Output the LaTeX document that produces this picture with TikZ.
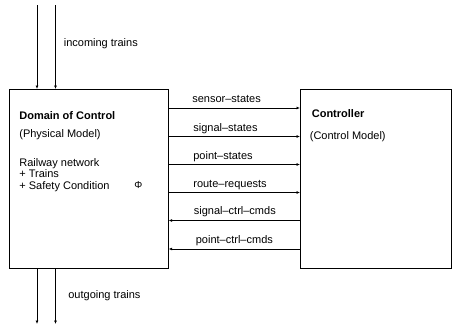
\documentclass[tikz,border=0pt]{standalone}
\usepackage{fontspec}
\setmainfont{Liberation Sans}
\usetikzlibrary{arrows.meta}
\begin{document}
\begin{tikzpicture}[x=1pt,y=-1pt,
  line width=0.7pt,
  font=\fontsize{11}{13}\selectfont,
  block/.style={draw, rectangle, inner sep=0pt, anchor=north west},
  flow/.style={-{Latex[length=3.5pt,width=3pt]}},
  lbl/.style={anchor=base west, inner sep=0pt}]
  \useasboundingbox (0,0) rectangle (453,327);

  % the two main blocks
  \node[block, minimum width=159pt, minimum height=179pt] (dom) at (9,89) {};
  \node[block, minimum width=151pt, minimum height=179pt] (ctl) at (300,89) {};

  % texts inside the physical model block
  \node[lbl, font=\fontsize{11}{13}\selectfont\bfseries] (domt) at (19,119) {Domain of Control};
  \node[lbl] (domm) at (19,137) {(Physical Model)};
  \node[lbl] (rw) at (19,166) {Railway network};
  \node[lbl] (tr) at (19,177.5) {+ Trains};
  \node[lbl] (sc) at (19,189) {+ Safety Condition};
  \node[lbl, font=\fontsize{10}{12}\selectfont] (phi) at (134,188.5) {Φ};

  % texts inside the controller block
  \node[lbl, font=\fontsize{11}{13}\selectfont\bfseries] (ctlt) at (311.5,117) {Controller};
  \node[lbl] (ctlm) at (309.5,139) {(Control Model)};

  % trains entering and leaving the domain
  \coordinate (inA) at (37,5);
  \coordinate (inB) at (55.5,5);
  \coordinate (outA) at (37,324);
  \coordinate (outB) at (55.5,324);
  \draw[flow] (inA) -- (inA |- dom.north);
  \draw[flow] (inB) -- (inB |- dom.north);
  \draw[flow] (outA |- dom.south) -- (outA);
  \draw[flow] (outB |- dom.south) -- (outB);
  \node[lbl] (inl) at (63.5,46.5) {incoming trains};
  \node[lbl] (outl) at (68,298) {outgoing trains};

  % interface channels between the blocks
  \coordinate (r1) at (0,108);
  \coordinate (r2) at (0,136.5);
  \coordinate (r3) at (0,164.5);
  \coordinate (r4) at (0,192.5);
  \coordinate (r5) at (0,220.5);
  \coordinate (r6) at (0,249);
  \draw[flow] (dom.east |- r1) -- (ctl.west |- r1);
  \draw[flow] (dom.east |- r2) -- (ctl.west |- r2);
  \draw[flow] (dom.east |- r3) -- (ctl.west |- r3);
  \draw[flow] (dom.east |- r4) -- (ctl.west |- r4);
  \draw[flow] (ctl.west |- r5) -- (dom.east |- r5);
  \draw[flow] (ctl.west |- r6) -- (dom.east |- r6);
  \node[lbl] (l1) at (192,102) {sensor–states};
  \node[lbl] (l2) at (193,131) {signal–states};
  \node[lbl] (l3) at (193,159) {point–states};
  \node[lbl] (l4) at (193,187) {route–requests};
  \node[lbl] (l5) at (193.5,214.5) {signal–ctrl–cmds};
  \node[lbl] (l6) at (195.5,243) {point–ctrl–cmds};
\end{tikzpicture}
\end{document}
